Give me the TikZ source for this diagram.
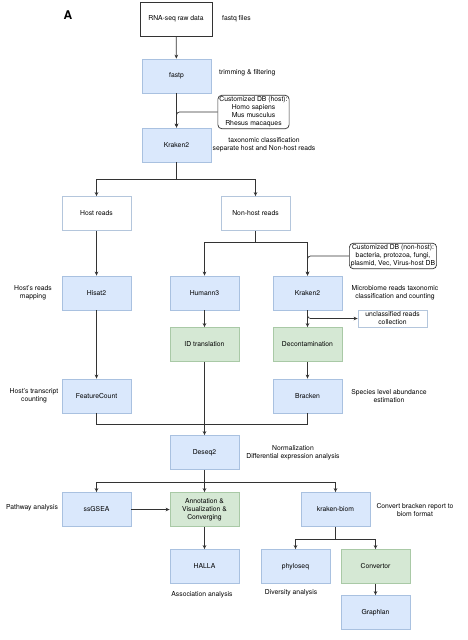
\documentclass[tikz,border=0pt]{standalone}
\usepackage{fontspec}
\setmainfont{TeX Gyre Heros}
\usetikzlibrary{arrows.meta}
\definecolor{bfill}{HTML}{DAE8FC}
\definecolor{bdraw}{HTML}{A9C1E0}
\definecolor{gfill}{HTML}{D5E8D4}
\definecolor{gdraw}{HTML}{A9C9A6}
\definecolor{wdraw}{HTML}{B4C6DC}
\definecolor{lncol}{HTML}{333333}
\begin{document}
\begin{tikzpicture}[x=1pt,y=-1pt,
  font=\fontsize{6.8}{8}\selectfont,
  boxbase/.style={rectangle, minimum width=69pt, minimum height=34pt, inner sep=1pt, align=center, line width=0.8pt},
  bluebox/.style={boxbase, fill=bfill, draw=bdraw},
  greenbox/.style={boxbase, fill=gfill, draw=gdraw},
  whitebox/.style={boxbase, fill=white, draw=wdraw},
  dbbox/.style={rectangle, rounded corners=4pt, draw=lncol, fill=white, line width=0.7pt, align=center, inner sep=1.5pt},
  lbl/.style={align=center, inner sep=0pt},
  conn/.style={draw=lncol, line width=0.7pt},
  arr/.style={conn, -{Stealth[length=4pt,width=3.6pt]}}
]
\useasboundingbox (0,0) rectangle (468,640);

\node[font=\fontsize{12}{14}\selectfont\bfseries] (A) at (68,15) {A};

% main nodes
\node[boxbase, fill=white, draw=lncol, minimum width=72pt] (raw) at (176,19) {RNA-seq raw data};
\node[bluebox] (fastp) at (176.5,76) {fastp};
\node[bluebox] (kr1) at (176.5,145) {Kraken2};
\node[dbbox] (hostdb) at (253.5,112) {Customized DB (host):\\Homo sapiens\\Mus musculus\\Rhesus macaques};

\node[whitebox] (host) at (96.5,213.5) {Host reads};
\node[whitebox] (nonhost) at (255.5,213.5) {Non-host reads};
\node[dbbox] (nhdb) at (393,256) {Customized DB (non-host):\\bacteria, protozoa, fungi,\\plasmid, Vec, Virus-host DB};

\node[bluebox] (hisat) at (96.5,293) {Hisat2};
\node[bluebox] (humann) at (204.5,293) {Humann3};
\node[bluebox] (kr2) at (307.5,293) {Kraken2};
\node[whitebox, minimum height=17pt] (uncl) at (392.5,318.5) {unclassified reads\\collection};

\node[greenbox] (idt) at (204.5,344.5) {ID translation};
\node[greenbox] (decon) at (307.5,344.5) {Decontamination};
\node[bluebox] (fc) at (96.5,396) {FeatureCount};
\node[bluebox] (bracken) at (307.5,396) {Bracken};

\node[bluebox] (deseq) at (204.5,452.5) {Deseq2};

\node[bluebox] (ssgsea) at (96.5,509.5) {ssGSEA};
\node[greenbox] (annot) at (204.5,509.5) {Annotation \&\\Visualization \&\\Converging};
\node[bluebox] (kbiom) at (335.5,509.5) {kraken-biom};

\node[bluebox] (halla) at (204.5,566.5) {HALLA};
\node[bluebox] (phylo) at (295.5,566.5) {phyloseq};
\node[greenbox] (conv) at (375.5,566.5) {Convertor};
\node[bluebox] (graph) at (375.5,612.5) {Graphlan};

% side labels
\node[lbl, anchor=west] (l1) at (222,19) {fastq files};
\node[lbl, anchor=west] (l2) at (219,73) {trimming \& filtering};
\node[lbl] (l3) at (264,145) {taxonomic classification\\separate host and Non-host reads};
\node[lbl] (l4) at (33,293) {Host's reads\\mapping};
\node[lbl] (l5) at (395,293) {Microbiome reads taxonomic\\classification and counting};
\node[lbl] (l6) at (34,396) {Host's transcript\\counting};
\node[lbl] (l7) at (389,396) {Species level abundance\\estimation};
\node[lbl] (l8) at (293,453) {Normalization\\Differential expression analysis};
\node[lbl] (l9) at (32,508) {Pathway analysis};
\node[lbl] (l10) at (415,510) {Convert bracken report to\\biom format};
\node[lbl] (l11) at (202,595) {Association analysis};
\node[lbl] (l12) at (291,593) {Diversity analysis};

% branch coordinates
\coordinate (b1) at (176.5,179);
\coordinate (b2) at (255.5,242);
\coordinate (b3) at (96.5,424);
\coordinate (b4) at (307.5,424);
\coordinate (b5) at (204.5,482);
\coordinate (b6) at (335.5,539);

% connectors
\draw[arr] (raw) -- (fastp);
\draw[arr] (fastp) -- (kr1);
\draw[arr, rounded corners=3pt] (hostdb.west) -| (kr1.north);
\draw[conn] (kr1.south) -- (b1);
\draw[arr] (b1) -| (host.north);
\draw[arr] (b1) -| (nonhost.north);
\draw[arr] (host) -- (hisat);
\draw[arr] (hisat) -- (fc);
\draw[conn] (nonhost.south) -- (b2);
\draw[arr] (b2) -| (humann.north);
\draw[arr] (b2) -| (kr2.north);
\draw[arr, rounded corners=3pt] (nhdb.west) -| (kr2.north);
\draw[arr] (humann) -- (idt);
\draw[arr] (kr2) -- (decon);
\draw[arr, rounded corners=3pt] (kr2.south) |- (uncl.west);
\draw[arr] (decon) -- (bracken);
\draw[arr] (idt) -- (deseq);
\draw[conn] (fc.south) -- (b3) -- (b4) -- (bracken.south);
\draw[conn] (deseq.south) -- (b5);
\draw[arr] (b5) -| (ssgsea.north);
\draw[arr] (b5) -- (annot.north);
\draw[arr] (b5) -| (kbiom.north);
\draw[arr] (ssgsea) -- (annot);
\draw[arr] (annot) -- (halla);
\draw[conn] (kbiom.south) -- (b6);
\draw[arr] (b6) -| (phylo.north);
\draw[arr] (b6) -| (conv.north);
\draw[arr] (conv) -- (graph);
\end{tikzpicture}
\end{document}
